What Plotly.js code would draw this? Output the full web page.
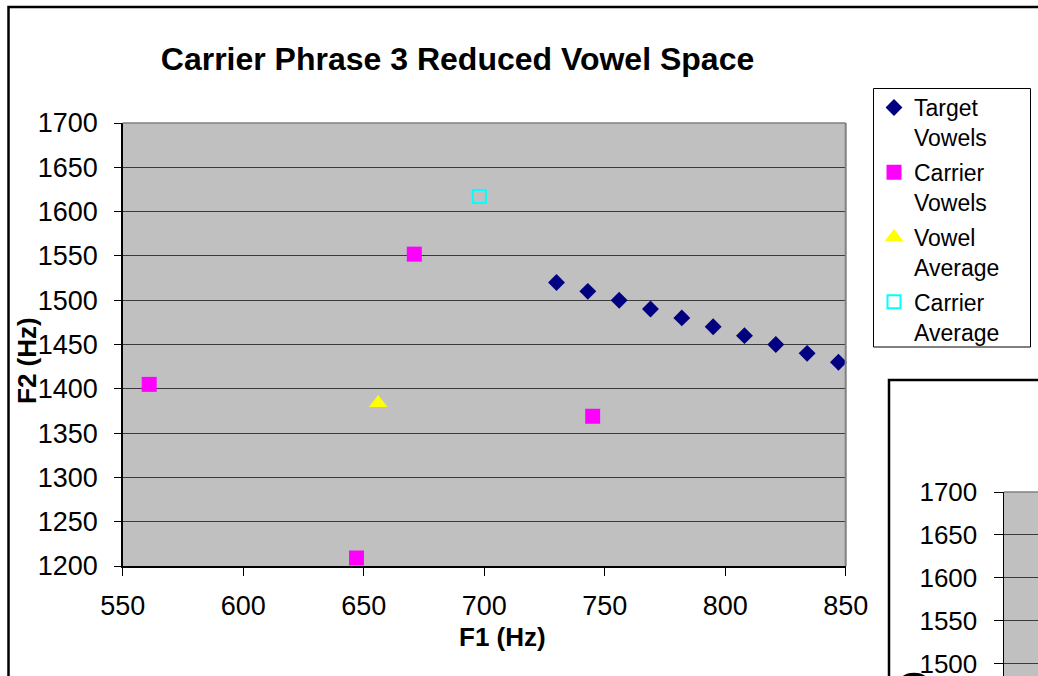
<!DOCTYPE html>
<html>
<head>
<meta charset="utf-8">
<script src="https://cdn.plot.ly/plotly-3.0.1.min.js"></script>
<style>html,body{margin:0;padding:0;background:#fff;}#chart{width:1038px;height:676px;}</style>
</head>
<body>
<div id="chart"></div>
<script>
// ---- data ----
const chartTitle = "Carrier Phrase 3 Reduced Vowel Space";
const xTitle = "F1 (Hz)";
const yTitle = "F2 (Hz)";

const targetF1 = [730, 743, 756, 769, 782, 795, 808, 821, 834, 847];
const targetF2 = [1520, 1510, 1500, 1490, 1480, 1470, 1460, 1450, 1440, 1430];

const carrierF1 = [561, 671, 647, 745];
const carrierF2 = [1405, 1552, 1209, 1369];

const vowelAvgF1 = [656];
const vowelAvgF2 = [1384];

const carrierAvgF1 = [698];
const carrierAvgF2 = [1617];

const seriesNames = ["Target<br>Vowels", "Carrier<br>Vowels", "Vowel<br>Average", "Carrier<br>Average"];

const xRange = [550, 850];
const yRange = [1200, 1700];
const y2Range = [1486, 1700];

// ---- styling ----
const W = 1038, H = 676;
const FONT = "Arial, 'Liberation Sans', sans-serif";
const px = v => v / W;
const py = v => 1 - v / H;

const traces = [
  {x: targetF1, y: targetF2, name: seriesNames[0], legendgroup: "g1", type: "scatter", mode: "markers",
   marker: {symbol: "diamond", size: 13, color: "#000080"}, cliponaxis: false},
  {x: carrierF1, y: carrierF2, name: seriesNames[1], legendgroup: "g2", type: "scatter", mode: "markers",
   marker: {symbol: "square", size: 15, color: "#FF00FF"}, cliponaxis: false},
  {x: vowelAvgF1, y: vowelAvgF2, name: seriesNames[2], legendgroup: "g3", type: "scatter", mode: "markers",
   marker: {symbol: "triangle-up", size: 16, color: "#FFFF00"}, cliponaxis: false},
  {x: carrierAvgF1, y: carrierAvgF2, name: seriesNames[3], legendgroup: "g4", type: "scatter", mode: "markers",
   marker: {symbol: "square-open", size: 13, color: "#00FFFF", line: {width: 2, color: "#00FFFF"}}, cliponaxis: false},
  // second (partially visible) chart
  {x: [], y: [], xaxis: "x2", yaxis: "y2", type: "scatter", mode: "markers", showlegend: false, hoverinfo: "skip"}
];

const layout = {
  width: W, height: H,
  margin: {l: 0, r: 0, t: 0, b: 0},
  paper_bgcolor: "#FFFFFF",
  plot_bgcolor: "#C0C0C0",
  font: {family: FONT, color: "#000000"},
  title: {text: chartTitle, font: {family: FONT, size: 32, weight: "bold", color: "#000"},
          xref: "container", yref: "container", x: px(457.5), y: py(59), xanchor: "center", yanchor: "middle"},
  xaxis: {domain: [px(122.7), px(845.7)], range: xRange, dtick: 50, tick0: 550,
          showgrid: false, zeroline: false, showline: true, linecolor: "#000", linewidth: 1.5,
          ticks: "outside", ticklen: 8, tickcolor: "#000", tickwidth: 1,
          tickfont: {family: FONT, size: 27, color: "#000"}, ticklabelstandoff: 7,
          fixedrange: true},
  yaxis: {domain: [py(566), py(123)], range: yRange, dtick: 50, tick0: 1200,
          showgrid: true, gridcolor: "#3a3a3a", gridwidth: 1, zeroline: false,
          showline: true, linecolor: "#000", linewidth: 1.5,
          ticks: "outside", ticklen: 7, tickcolor: "#000", tickwidth: 1,
          tickfont: {family: FONT, size: 27, color: "#000"}, ticklabelstandoff: 11,
          fixedrange: true},
  xaxis2: {domain: [px(1004), 1], range: [0, 1], visible: false, anchor: "y2", fixedrange: true},
  yaxis2: {domain: [0, py(492)], range: y2Range, dtick: 50, tick0: 1500, anchor: "x2",
           showgrid: true, gridcolor: "#3a3a3a", gridwidth: 1, zeroline: false,
           showline: true, linecolor: "#000", linewidth: 1.5,
           ticks: "outside", ticklen: 9, tickcolor: "#000", tickwidth: 1,
           tickfont: {family: FONT, size: 26, color: "#000"}, ticklabelstandoff: 11,
           ticklabeloverflow: "allow", fixedrange: true},
  showlegend: true,
  legend: {x: px(874), y: py(86), xanchor: "left", yanchor: "top",
           bgcolor: "rgba(255,255,255,0)", borderwidth: 0,
           font: {family: FONT, size: 23, color: "#000"}, valign: "top",
           tracegroupgap: 2},
  annotations: [
    {text: "<b>" + xTitle + "</b>", xref: "paper", yref: "paper", x: px(502), y: py(637),
     xanchor: "center", yanchor: "middle", showarrow: false, font: {family: FONT, size: 26, color: "#000"}},
    {text: "<b>" + yTitle + "</b>", xref: "paper", yref: "paper", x: px(27), y: py(361),
     xanchor: "center", yanchor: "middle", textangle: -90, showarrow: false, font: {family: FONT, size: 26, color: "#000"}},
    {text: "<b>" + yTitle + "</b>", xref: "paper", yref: "paper", x: px(912), y: py(715),
     xanchor: "center", yanchor: "middle", textangle: -90, showarrow: false, font: {family: FONT, size: 26, color: "#000"}}
  ],
  shapes: [
    // outer border of main chart
    {type: "rect", xref: "paper", yref: "paper", x0: px(8.5), x1: 1.1, y0: py(7), y1: -0.1,
     line: {color: "#000", width: 2.5}, fillcolor: "rgba(0,0,0,0)", layer: "above"},
    // outer border of second chart
    {type: "rect", xref: "paper", yref: "paper", x0: px(889), x1: 1.1, y0: py(380), y1: -0.1,
     line: {color: "#000", width: 2.5}, fillcolor: "rgba(0,0,0,0)", layer: "above"},
    // legend frame
    {type: "rect", xref: "paper", yref: "paper", x0: px(873.5), x1: px(1030.5), y0: py(88.5), y1: py(347),
     line: {color: "#000", width: 1}, fillcolor: "rgba(0,0,0,0)", layer: "above"},
    // plot area border: top and right edges (gray)
    {type: "line", xref: "paper", yref: "paper", x0: px(122.7), x1: px(845.7), y0: py(123), y1: py(123),
     line: {color: "#808080", width: 1.5}, layer: "above"},
    {type: "line", xref: "paper", yref: "paper", x0: px(845.7), x1: px(845.7), y0: py(123), y1: py(566),
     line: {color: "#808080", width: 2}, layer: "above"},
    {type: "line", xref: "paper", yref: "paper", x0: px(1004), x1: 1.05, y0: py(492), y1: py(492),
     line: {color: "#808080", width: 1.5}, layer: "above"}
  ]
};

Plotly.newPlot("chart", traces, layout, {displayModeBar: false, staticPlot: true});
</script>
</body>
</html>
